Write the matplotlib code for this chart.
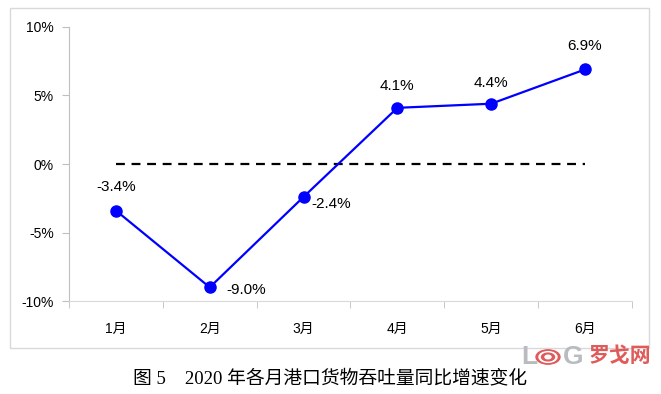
import matplotlib
matplotlib.use('Agg')
import matplotlib.pyplot as plt
from matplotlib.patches import Rectangle, Circle

months = ['1月', '2月', '3月', '4月', '5月', '6月']
growth = [-3.4, -9.0, -2.4, 4.1, 4.4, 6.9]
labels = ['-3.4%', '-9.0%', '-2.4%', '4.1%', '4.4%', '6.9%']
yticks = [-10, -5, 0, 5, 10]
title = '图 5    2020 年各月港口货物吞吐量同比增速变化'

# label offsets in points (dx, dy)
offsets = [(0, 17), (26, -2), (20, -5), (0, 16), (0, 15), (0, 17)]

plt.rcParams['font.family'] = ['Liberation Sans', 'Noto Sans CJK SC']

fig = plt.figure(figsize=(6.61, 3.94), dpi=100)
ax = fig.add_axes([0.1044, 0.236, 0.8516, 0.6955])

x = list(range(len(months)))
ax.plot([x[0], x[-1]], [0, 0], color='black', lw=1.6, ls=(0, (4, 3)))
ax.plot(x, growth, color='#0000ff', lw=1.6, marker='o', markersize=8)

for xi, yi, lab, off in zip(x, growth, labels, offsets):
    ax.annotate(lab, (xi, yi), xytext=off, textcoords='offset points',
                ha='center', va='center', fontsize=11)

ax.set_xlim(-0.5, len(months) - 0.5)
ax.set_ylim(-10, 10)
ax.set_yticks(yticks)
ax.set_yticklabels([f'{v}%' for v in yticks], fontsize=11)
ax.set_xticks(x)
ax.set_xticklabels(months, fontsize=12)
ax.set_xticks([i - 0.5 for i in range(len(months) + 1)], minor=True)
ax.tick_params(axis='x', which='major', length=0, pad=15)
ax.tick_params(axis='x', which='minor', length=5, color='#bfbfbf')
ax.tick_params(axis='y', length=5, color='#bfbfbf', pad=6)

for s in ['top', 'right']:
    ax.spines[s].set_visible(False)
ax.spines['left'].set_color('#bfbfbf')
ax.spines['bottom'].set_color('#d9d9d9')
ax.spines['left'].set_position(('data', -0.5))
ax.spines['bottom'].set_position(('data', -10))

# outer chart border
fig.patches.append(Rectangle((10 / 661, 1 - 348 / 394), 639 / 661, 340 / 394,
                             transform=fig.transFigure, fill=False,
                             edgecolor='#d9d9d9', lw=1))

fig.text(0.5, 1 - 378 / 394, title, ha='center', va='center', fontsize=13.5,
         family=['Liberation Serif', 'Noto Sans CJK SC'])

# watermark
fig.text(529 / 661, 1 - 357 / 394, 'L', color='#b8bcc0', fontsize=19,
         fontweight='bold', ha='center', va='center')
for r, c in [(12, '#e05a5a'), (9, 'white'), (6.5, 'white'), (6.5, '#e05a5a'),
             (3, 'white')]:
    fig.patches.append(Circle((548 / 661, 1 - 357 / 394), r / 661,
                              transform=fig.transFigure, color=c))
fig.text(573 / 661, 1 - 357 / 394, 'G', color='#b8bcc0', fontsize=19,
         fontweight='bold', ha='center', va='center')
fig.text(620 / 661, 1 - 356 / 394, '罗戈网', color='#e05a5a', fontsize=15,
         fontweight='bold', ha='center', va='center')

fig.savefig('out.png', dpi=100)
